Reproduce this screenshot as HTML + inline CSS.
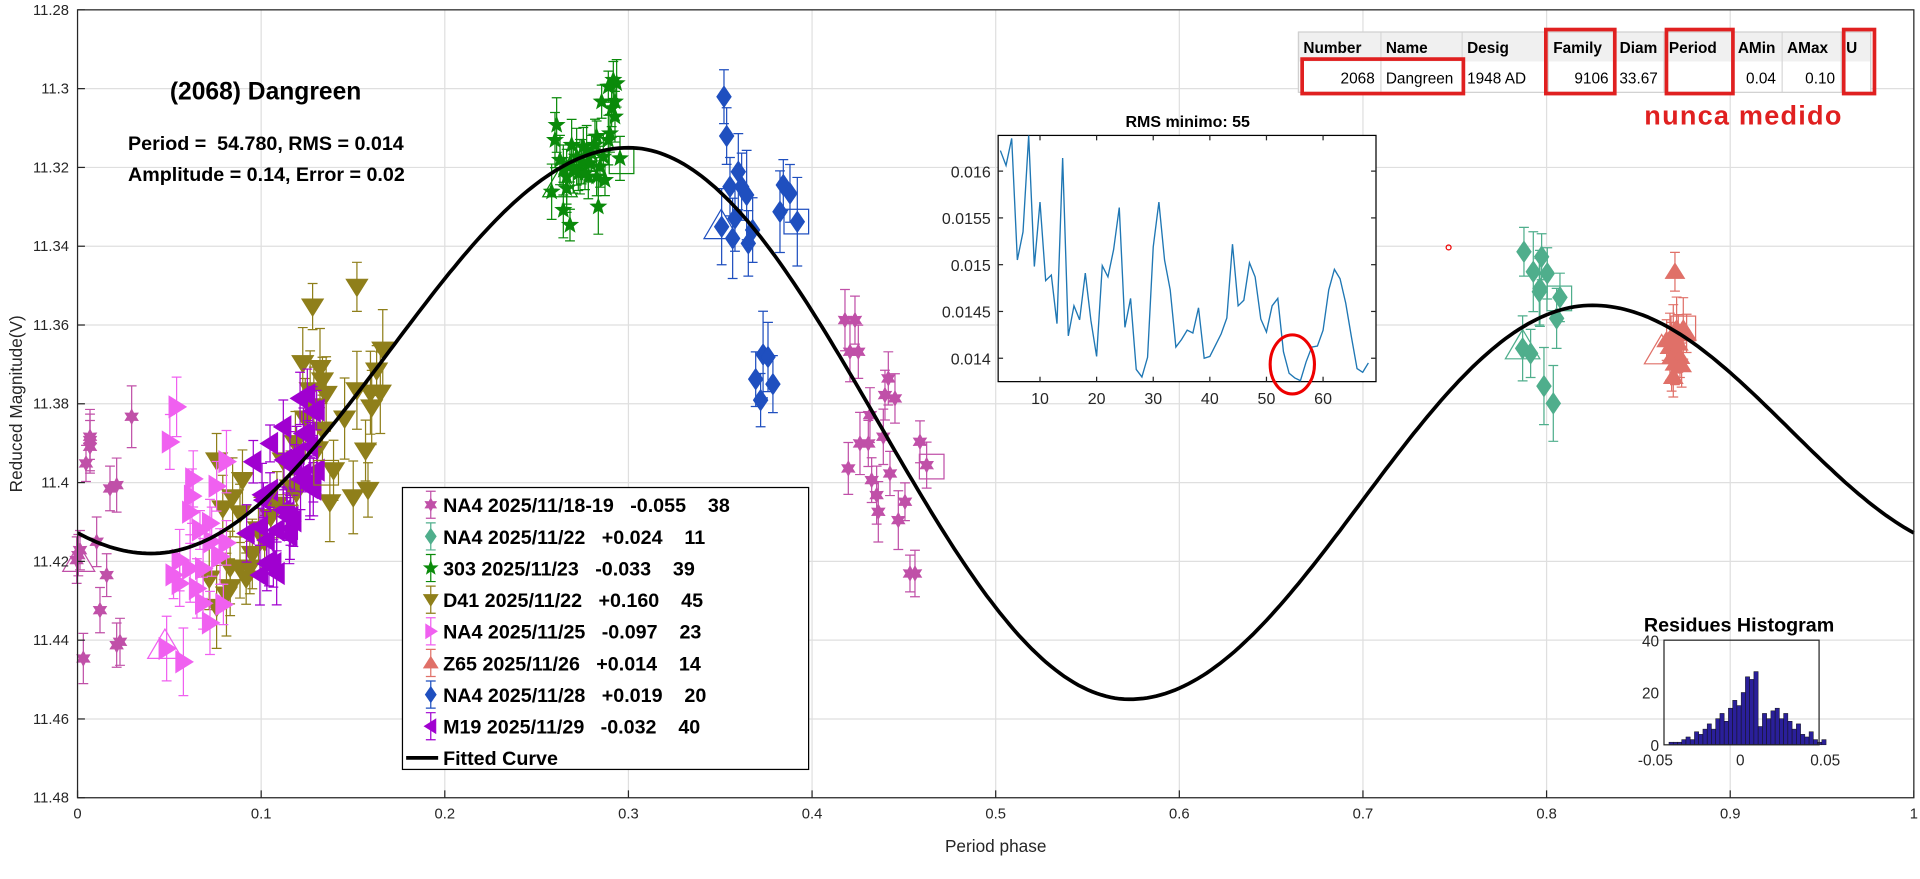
<!DOCTYPE html>
<html><head><meta charset="utf-8"><style>html,body{margin:0;padding:0;background:#fff}svg{display:block}text{font-family:"Liberation Sans",Arial,sans-serif}#leg text{white-space:pre}</style></head>
<body>
<svg id="s" width="1920" height="879" viewBox="0 0 1560 714" preserveAspectRatio="none" xmlns="http://www.w3.org/2000/svg">
<rect x="0" y="0" width="1560" height="714" fill="#fff"/>
<g id="grid"></g>
<g id="data"></g>
<path id="curve" fill="none" stroke="#000" stroke-width="3"/>
<rect x="63" y="8" width="1492" height="640" fill="none" stroke="#262626" stroke-width="1"/>
<g id="ticks" font-size="12" fill="#262626"></g>
<text x="809" y="692" font-size="14" text-anchor="middle" fill="#262626">Period phase</text>
<text transform="translate(18,328) rotate(-90)" font-size="14" text-anchor="middle" fill="#262626">Reduced Magnitude(V)</text>
<text x="138" y="81" font-size="20" font-weight="bold">(2068) Dangreen</text>
<text x="104" y="122" font-size="16" font-weight="bold" style="white-space:pre">Period =  54.780, RMS = 0.014</text>
<text x="104" y="147" font-size="16" font-weight="bold">Amplitude = 0.14, Error = 0.02</text>
<circle cx="1177" cy="201" r="2" fill="none" stroke="#e00" stroke-width="1"/>
<g id="table" font-size="12.5"></g>
<text x="1336" y="101" font-size="22" font-weight="bold" fill="#e02020" letter-spacing="1">nunca medido</text>
<rect x="811" y="110" width="307" height="200" fill="#fff" stroke="#000" stroke-width="1"/>
<text x="965" y="103" font-size="13" font-weight="bold" text-anchor="middle">RMS minimo: 55</text>
<g id="inset" font-size="13" fill="#262626"></g>
<ellipse cx="1050" cy="296" rx="18" ry="24" fill="none" stroke="#e00" stroke-width="2.5"/>
<text x="1413" y="513" font-size="16" font-weight="bold" text-anchor="middle">Residues Histogram</text>
<g id="hist" font-size="12.5" fill="#262626"></g>
<rect x="327" y="396" width="330" height="229" fill="#fff" stroke="#000" stroke-width="1"/>
<g id="leg" font-size="16" font-weight="bold"></g>
</svg>
<script>
const NS="http://www.w3.org/2000/svg";
function el(tag,attrs,parent,txt){const e=document.createElementNS(NS,tag);for(const k in attrs)e.setAttribute(k,attrs[k]);if(txt!==undefined)e.textContent=txt;(parent||document.getElementById('s')).appendChild(e);return e;}
const X=p=>63+1492*p, Y=m=>8+(m-11.28)*3200;
const S=1.2308;const Z=(ox,oy,arr)=>arr.map(([a,b])=>[(ox+a/3)/S,(oy+b/3)/S]);
const grid=document.getElementById('grid'),ticks=document.getElementById('ticks');
for(let i=0;i<=10;i++){const x=X(i/10);el('line',{x1:x,x2:x,y1:8,y2:648,stroke:'#dfdfdf'},grid);el('text',{x:x,y:665,'text-anchor':'middle'},ticks,(i/10).toString());
el('line',{x1:x,x2:x,y1:648,y2:642,stroke:'#262626'},ticks);}
for(let i=0;i<=10;i++){const m=11.28+i*0.02;const y=Y(m);el('line',{x1:63,x2:1555,y1:y,y2:y,stroke:'#dfdfdf'},grid);
let t=m.toFixed(2).replace(/0$/,'');el('text',{x:56,y:y+4,'text-anchor':'end'},ticks,t);el('line',{x1:63,x2:69,y1:y,y2:y,stroke:'#262626'},ticks);}
const ext=[[-0.175,11.355],[0.04,11.418],[0.30,11.315],[0.573,11.455],[0.825,11.355],[1.04,11.418]];
let d='';for(let i=0;i<=400;i++){const p=i/400;let k=0;while(!(p>=ext[k][0]&&p<=ext[k+1][0]))k++;const a=ext[k],b=ext[k+1];const f=(p-a[0])/(b[0]-a[0]);const m=a[1]+(b[1]-a[1])*(1-Math.cos(Math.PI*f))/2;d+=(i?'L':'M')+X(p).toFixed(1)+' '+Y(m).toFixed(1);}
document.getElementById('curve').setAttribute('d',d);
function star(cx,cy,r,n,inner){let s='';for(let i=0;i<2*n;i++){const rr=i%2?r*inner:r;const a=-Math.PI/2+i*Math.PI/n;s+=(i?'L':'M')+(cx+rr*Math.cos(a)).toFixed(1)+' '+(cy+rr*Math.sin(a)).toFixed(1);}return s+'Z';}
function marker(type,x,y,s,col,g){let dd;
if(type==='hex')dd=star(x,y,s*0.9,6,0.55);
else if(type==='pent')dd=star(x,y,s,5,0.42);
else if(type==='dia')dd=`M${x} ${y-s*1.1}L${x+s*0.75} ${y}L${x} ${y+s*1.1}L${x-s*0.75} ${y}Z`;
else if(type==='down')dd=`M${x-s} ${y-s*0.7}L${x+s} ${y-s*0.7}L${x} ${y+s*0.9}Z`;
else if(type==='up')dd=`M${x-s} ${y+s*0.7}L${x+s} ${y+s*0.7}L${x} ${y-s*0.9}Z`;
else if(type==='right')dd=`M${x-s*0.7} ${y-s}L${x-s*0.7} ${y+s}L${x+s*0.9} ${y}Z`;
else dd=`M${x+s*0.7} ${y-s}L${x+s*0.7} ${y+s}L${x-s*0.9} ${y}Z`;
el('path',{d:dd,fill:col,stroke:col,'stroke-width':0.5},g);}
function ebar(x,y,h,col,g){el('path',{d:`M${x} ${y-h}V${y+h}M${x-4} ${y-h}H${x+4}M${x-4} ${y+h}H${x+4}`,stroke:col,'stroke-width':1,fill:'none'},g);}
let seed=7;const rnd=()=>{seed=(seed*16807)%2147483647;return seed/2147483647;};
const data=document.getElementById('data');
const hexL=Z(70,180,[[60,780],[48,850],[60,770],[120,925],[140,915],[185,710],[80,1085],[30,1110],[20,1140],[110,1185],[90,1290],[150,1385],[140,1395],[40,1435],[60,800],[25,1125]]);
const hexR=Z(820,280,[[75,120],[105,120],[90,215],[115,215],[205,295],[195,345],[225,355],[150,405],[120,490],[145,490],[190,470],[300,485],[85,565],[155,600],[210,580],[320,555],[170,645],[175,695],[255,665],[235,720],[270,880],[285,880]]);
const green=Z(520,30,[[110,285],[105,330],[155,345],[190,350],[230,320],[270,310],[245,215],[265,170],[290,160],[285,215],[285,260],[300,385],[120,390],[150,400],[180,410],[210,400],[240,410],[140,440],[175,430],[205,440],[255,450],[95,485],[140,475],[130,540],[150,585],[235,530],[215,370],[170,380],[250,380],[200,360],[230,440],[280,150],[275,235],[160,420],[195,430],[225,345],[265,330],[130,420],[185,395]]);
const blue=Z(520,30,[[612,200],[620,318],[655,425],[630,470],[665,470],[680,495],[645,565],[605,590],[638,625],[698,600],[685,640],[790,465],[810,490],[780,545],[832,575]]).concat([[614,308],[620,288],[624,290],[618,325],[628,312]]);
const teal=Z(1510,200,[[42,155],[95,170],[70,215],[112,220],[88,275],[150,292],[140,355],[38,445],[62,460],[102,558],[130,610],[90,265]]);
const z65=Z(1510,200,[[495,215],[500,385],[490,400],[520,385],[480,440],[500,460],[495,490],[490,530],[510,470],[470,420],[530,400],[505,430],[485,470],[515,495]]);
const olive=[[254,249],[290,233],[311,284],[306,301],[246,295],[260,299],[262,309],[252,317],[290,317],[301,319],[309,319],[302,331],[297,366],[299,398],[287,404],[268,408],[271,382],[176,374],[197,390],[189,404],[181,413],[195,417],[230,374],[236,396],[241,400],[187,461],[195,461],[203,461],[187,477],[184,483],[176,493],[262,349],[255,330],[248,340],[215,440],[205,450],[220,420],[210,430],[225,410],[265,320],[280,340],[240,360],[258,365],[170,470],[200,470]];
const pinkR=[[143.5,330.5],[138,359],[157,389],[156,403],[154.5,416],[176,395],[184,375],[162.5,430.5],[170.6,425],[178.8,452],[184,441],[146,455],[141,467],[146,474],[160,478],[165,490],[181.5,491],[170.6,506],[135.4,526.8],[149,537.6],[154.5,461.8],[165,461.8],[172,440]];
const purple=[[243.8,323.6],[257.3,333.1],[219.4,360.2],[205.8,375.1],[230.2,346.7],[246.5,352.1],[251.9,362.9],[235.6,376.5],[246.5,384.6],[257.3,381.9],[254.6,390],[219.4,398.1],[214,406.2],[230.2,414.4],[211.2,427.9],[224.8,430.6],[235.6,429.3],[200.4,433.3],[216.7,438.7],[222.1,457.7],[211.2,467.2],[224.8,465.8],[251.9,395.4],[241,368.3]];
for(let i=0;i<16;i++){const b=purple[Math.floor(rnd()*24)];purple.push([b[0]+(rnd()-0.5)*14,b[1]+(rnd()-0.5)*14]);}
const series=[
{t:'hex',c:'#c050a8',s:7,e:20,pts:hexL.concat(hexR)},
{t:'dia',c:'#4fae8c',s:8,e:25,pts:teal},
{t:'pent',c:'#0a8a0a',s:7,e:18,pts:green},
{t:'down',c:'#8f7f1a',s:9,e:26,pts:olive},
{t:'right',c:'#f060f0',s:9,e:22,pts:pinkR},
{t:'up',c:'#e07068',s:8,e:22,pts:z65},
{t:'dia',c:'#1f4fbf',s:8,e:28,pts:blue},
{t:'left',c:'#a000d0',s:9,e:20,pts:purple}];
for(const Sx of series){const g=el('g',{},data);for(const p of Sx.pts)ebar(p[0],p[1],Sx.e*(0.7+rnd()*0.6),Sx.c,g);for(const p of Sx.pts)marker(Sx.t,p[0],p[1],Sx.s,Sx.c,g);}
const tri=(p,c,r)=>el('path',{d:`M${p[0]-r} ${p[1]+r*0.7}L${p[0]+r} ${p[1]+r*0.7}L${p[0]} ${p[1]-r}Z`,fill:'none',stroke:c},data);
const sq=(p,c,r)=>el('rect',{x:p[0]-r,y:p[1]-r,width:2*r,height:2*r,fill:'none',stroke:c},data);
const zp=(ox,oy,a,b)=>[(ox+a/3)/S,(oy+b/3)/S];
tri([455,150],'#0a8a0a',14);tri([134,525],'#f060f0',14);tri([64,455],'#c050a8',13);tri([230,402],'#8f7f1a',12);tri([586,184],'#1f4fbf',14);tri(zp(1510,200,38,440),'#4fae8c',14);tri(zp(1510,200,455,455),'#e07068',14);
sq([757,379],'#c050a8',10);sq([265,384],'#8f7f1a',10);sq([505,131],'#0a8a0a',10);sq([647,180],'#1f4fbf',10);sq(zp(1510,200,148,295),'#4fae8c',10);sq(zp(1510,200,520,385),'#e07068',10);
const tb=document.getElementById('table');
const cols=[1055,1122,1188,1258,1312,1352,1408,1448,1496,1520];
const hd=['Number','Name','Desig','Family','Diam','Period','AMin','AMax','U'];
const rw=['2068','Dangreen','1948 AD','9106','33.67','','0.04','0.10',''];
el('rect',{x:1055,y:26,width:465,height:24,fill:'#f0f0f0'},tb);el('rect',{x:1055,y:50,width:465,height:25,fill:'#fff'},tb);
for(let i=0;i<cols.length;i++)el('line',{x1:cols[i],x2:cols[i],y1:26,y2:75,stroke:'#d8d8d8'},tb);
el('rect',{x:1055,y:26,width:465,height:49,fill:'none',stroke:'#d0d0d0'},tb);
for(let i=0;i<9;i++){el('text',{x:cols[i]+4,y:43,'font-weight':'bold'},tb,hd[i]);
const right=(i===0||i===3||i===6||i===7||i===4);el('text',{x:right?cols[i+1]-5:cols[i]+4,y:68,'text-anchor':right?'end':'start'},tb,rw[i]);}
[[1058,48,131,28],[1256,24,56,52],[1354,24,54,52],[1498,24,25,52]].forEach(r=>el('rect',{x:r[0],y:r[1],width:r[2],height:r[3],fill:'none',stroke:'#e02020','stroke-width':3},tb));
const ins=document.getElementById('inset');
const IX=v=>845+(v-10)*4.6, IY=v=>139+(0.016-v)*76000;
[10,20,30,40,50,60].forEach(v=>{el('text',{x:IX(v),y:328,'text-anchor':'middle'},ins,v);el('line',{x1:IX(v),x2:IX(v),y1:310,y2:306,stroke:'#262626'},ins);el('line',{x1:IX(v),x2:IX(v),y1:110,y2:114,stroke:'#262626'},ins);});
[[0.016,'0.016'],[0.0155,'0.0155'],[0.015,'0.015'],[0.0145,'0.0145'],[0.014,'0.014']].forEach(([v,t])=>{el('text',{x:805,y:IY(v)+5,'text-anchor':'end'},ins,t);el('line',{x1:811,x2:815,y1:IY(v),y2:IY(v),stroke:'#262626'},ins);el('line',{x1:1118,x2:1114,y1:IY(v),y2:IY(v),stroke:'#262626'},ins);});
const rv=[0.01622,0.01606,0.01635,0.01505,0.01535,0.01638,0.01498,0.01567,0.01483,0.01489,0.01437,0.01614,0.01424,0.01456,0.01441,0.01491,0.0144,0.01402,0.01499,0.01487,0.01516,0.01561,0.01433,0.01464,0.01388,0.0138,0.01401,0.01519,0.01567,0.01505,0.01473,0.01412,0.0142,0.0143,0.01427,0.01454,0.014,0.01402,0.01414,0.01426,0.01443,0.01522,0.01456,0.01462,0.01502,0.01487,0.01442,0.01428,0.01456,0.01464,0.01407,0.01384,0.01379,0.01376,0.01396,0.01412,0.01413,0.0143,0.01473,0.01495,0.01485,0.01459,0.01423,0.01389,0.01385,0.01395];
let di='';rv.forEach((v,i)=>{const x=3+i;di+=(i?'L':'M')+IX(x).toFixed(1)+' '+Math.max(110,IY(v)).toFixed(1);});
el('path',{d:di,fill:'none',stroke:'#1f77b4','stroke-width':1.1},ins);
const hg=document.getElementById('hist');
const HX=v=>1414+v*1380, HY=v=>605-v*85/40;
const hv=[1,1,1,2,3,2,5,4,6,8,6,10,12,9,14,17,15,20,26,25,28,7,12,10,13,14,10,12,9,6,8,4,3,5,2,1,2];
const bw=0.0025;hv.forEach((v,i)=>{const x0=-0.042+i*bw;el('rect',{x:HX(x0),y:HY(v),width:bw*1380,height:v*85/40,fill:'#2a1f9a',stroke:'#111','stroke-width':0.4},hg);});
el('rect',{x:1352,y:520,width:126,height:85,fill:'none',stroke:'#262626'},hg);
[[-0.05,'-0.05'],[0,'0'],[0.05,'0.05']].forEach(([v,t])=>el('text',{x:HX(v),y:622,'text-anchor':'middle'},hg,t));
[[0,'0'],[20,'20'],[40,'40']].forEach(([v,t])=>el('text',{x:1348,y:HY(v)+5,'text-anchor':'end'},hg,t));
const lg=document.getElementById('leg');
const li=[['hex','#c050a8','NA4 2025/11/18-19   -0.055    38'],['dia','#4fae8c','NA4 2025/11/22   +0.024    11'],['pent','#0a8a0a','303 2025/11/23   -0.033    39'],['down','#8f7f1a','D41 2025/11/22   +0.160    45'],['right','#f060f0','NA4 2025/11/25   -0.097    23'],['up','#e07068','Z65 2025/11/26   +0.014    14'],['dia','#1f4fbf','NA4 2025/11/28   +0.019    20'],['left','#a000d0','M19 2025/11/29   -0.032    40']];
li.forEach((it,i)=>{const y=410+i*25.7;ebar(350,y,11,it[1],lg);marker(it[0],350,y,6,it[1],lg);el('text',{x:360,y:y+6},lg,it[2]);});
const fy=410+8*25.7;el('line',{x1:330,x2:356,y1:fy,y2:fy,stroke:'#000','stroke-width':3},lg);el('text',{x:360,y:fy+6},lg,'Fitted Curve');
</script>
</body></html>
